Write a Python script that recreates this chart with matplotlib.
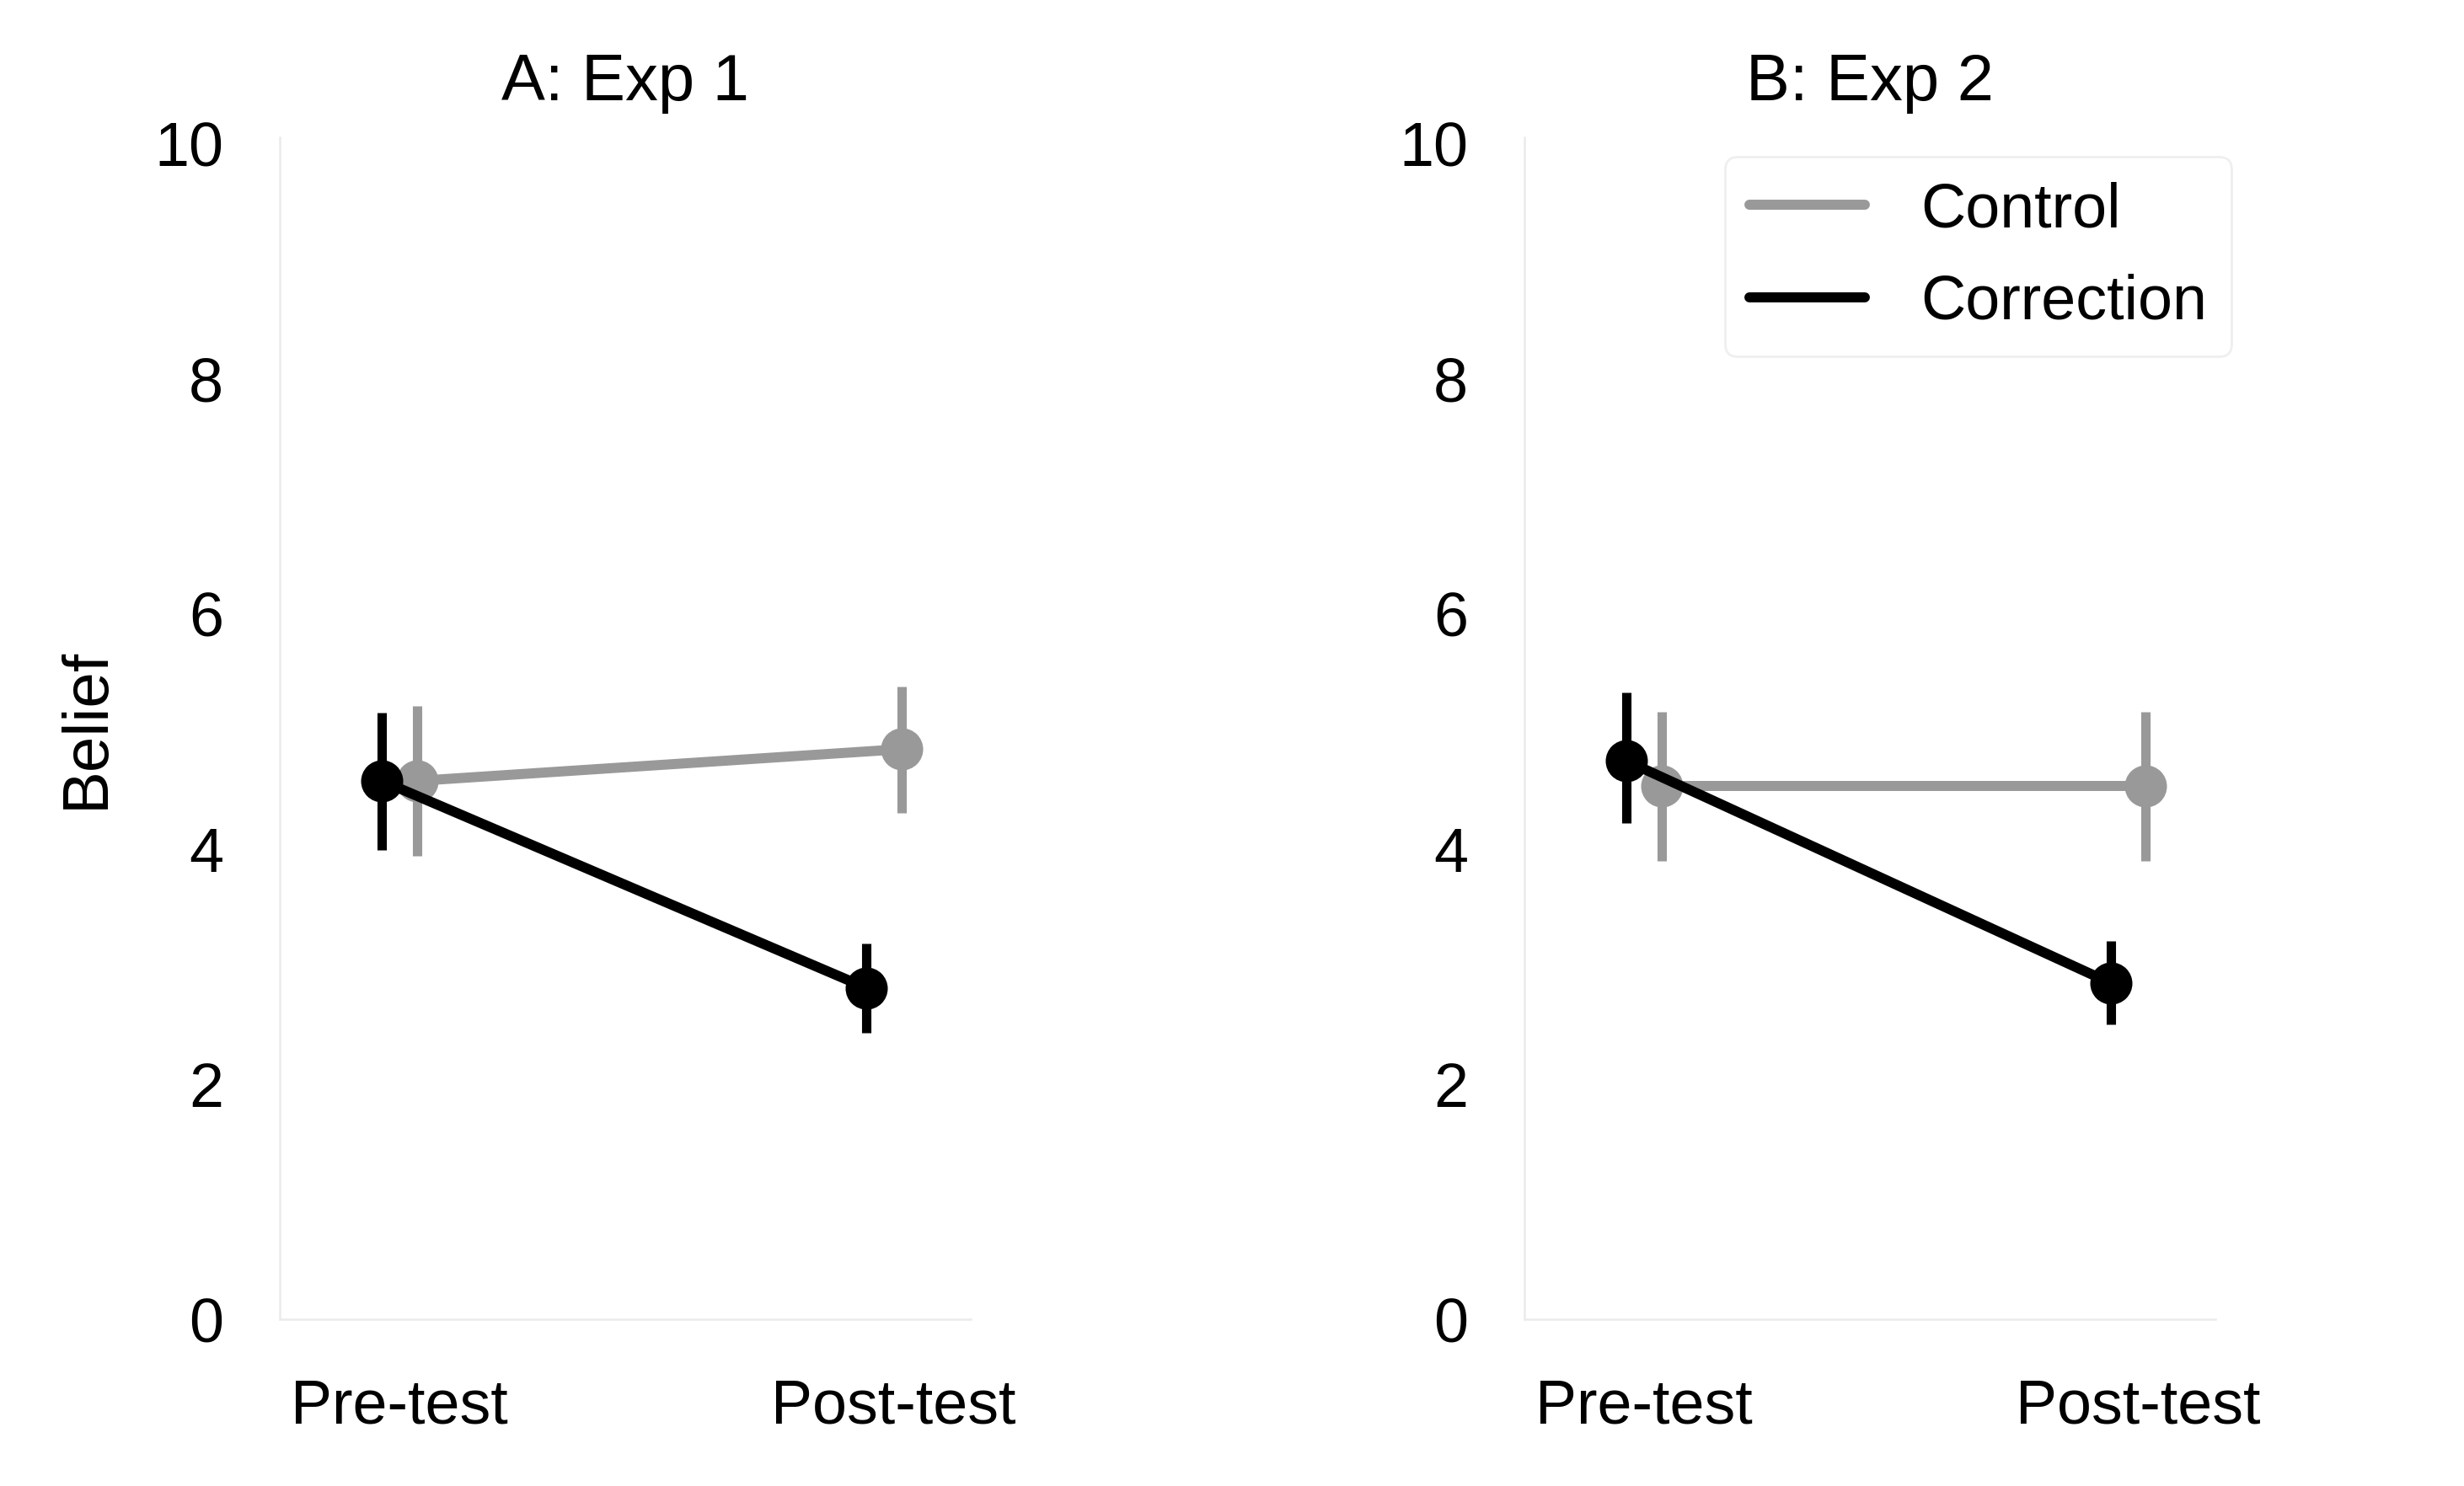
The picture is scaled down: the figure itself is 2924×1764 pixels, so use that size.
import numpy as np
import matplotlib.pyplot as plt
from matplotlib.lines import Line2D

plt.rcParams['font.family'] = ['Liberation Sans', 'DejaVu Sans']

phases = ["Pre-test", "Post-test"]
groups = ["Control", "Correction"]
panel_titles = ["A: Exp 1", "B: Exp 2"]

# means and 95% CI bounds
exp1_control = [4.58, 4.85]
exp1_control_lo = [3.94, 4.31]
exp1_control_hi = [5.22, 5.38]
exp1_correction = [4.58, 2.82]
exp1_correction_lo = [3.99, 2.44]
exp1_correction_hi = [5.16, 3.20]

exp2_control = [4.54, 4.54]
exp2_control_lo = [3.90, 3.90]
exp2_control_hi = [5.17, 5.17]
exp2_correction = [4.75, 2.86]
exp2_correction_lo = [4.22, 2.51]
exp2_correction_hi = [5.33, 3.22]

colors = {"Control": "#999999", "Correction": "#000000"}
dodge = {"Control": 0.036, "Correction": -0.036}
spine_col = "#ebebeb"


def draw_group(ax, group, means, lo, hi):
    x = np.arange(1, len(phases) + 1) + dodge[group]
    m = np.array(means)
    yerr = [m - np.array(lo), np.array(hi) - m]
    ax.errorbar(x, m, yerr=yerr, fmt='o-', color=colors[group],
                lw=4.3, elinewidth=4.0, capsize=0, ms=17, label=group)


def style_axes(ax, title):
    ax.set_xlim(0.753, 2.18)
    ax.set_ylim(0, 10.05)
    ax.set_yticks([0, 2, 4, 6, 8, 10])
    # tick labels sit a touch right of the category centre for Post-test
    ax.set_xticks([1, 2.02])
    ax.set_xticklabels(phases)
    ax.tick_params(length=0, labelsize=26.5, pad=24)
    ax.tick_params(axis='x', pad=25)
    for side in ["top", "right"]:
        ax.spines[side].set_visible(False)
    for side in ["left", "bottom"]:
        ax.spines[side].set_color(spine_col)
        ax.spines[side].set_linewidth(0.9)
    ax.set_title(title, fontsize=28, pad=16)


fig = plt.figure(figsize=(14.62, 8.82), dpi=200)
ax1 = fig.add_axes([0.1135, 0.112, 0.2806, 0.7954])
ax2 = fig.add_axes([0.6186, 0.112, 0.2806, 0.7954])

draw_group(ax1, "Control", exp1_control, exp1_control_lo, exp1_control_hi)
draw_group(ax1, "Correction", exp1_correction, exp1_correction_lo, exp1_correction_hi)
draw_group(ax2, "Control", exp2_control, exp2_control_lo, exp2_control_hi)
draw_group(ax2, "Correction", exp2_correction, exp2_correction_lo, exp2_correction_hi)

style_axes(ax1, panel_titles[0])
style_axes(ax2, panel_titles[1])
ax1.set_ylabel("Belief", fontsize=27.5, labelpad=16)

handles = [Line2D([], [], color=colors[g], lw=4.3, solid_capstyle='round') for g in groups]
leg = ax2.legend(handles, groups, loc='upper right', bbox_to_anchor=(1.023, 0.984),
                 borderaxespad=0, fontsize=26.5, handlelength=1.85, handletextpad=0.9,
                 labelspacing=0.55, borderpad=0.4, frameon=True, fancybox=True)
leg.get_frame().set_edgecolor(spine_col)
leg.get_frame().set_linewidth(1.0)

fig.savefig("out.png", dpi=200)
